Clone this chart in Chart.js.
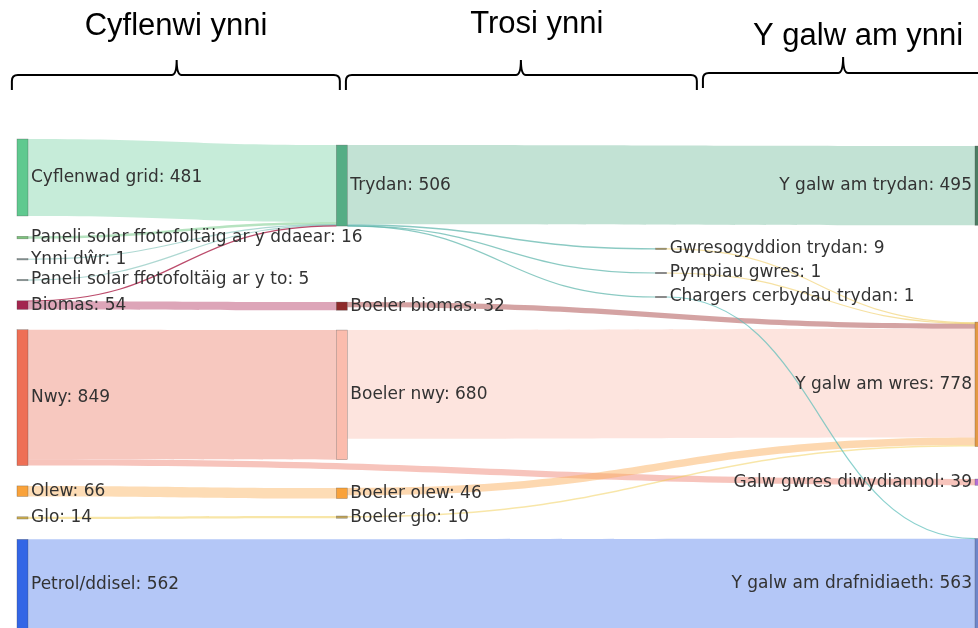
<!DOCTYPE html>
<html>
<head>
<meta charset="utf-8">
<script src="https://cdn.jsdelivr.net/npm/chart.js@4.4.1/dist/chart.umd.min.js"></script>
<style>
  html, body { margin: 0; padding: 0; background: #fff; }
  #wrap { width: 978px; height: 628px; }
</style>
</head>
<body>
<div id="wrap"><canvas id="sankeyChart" width="978" height="628"></canvas></div>
<script>
// nodes: name, quoted total and stage (0 supply, 1 conversion, 2 appliances, 3 demand)
const nodeNames = [
  'Cyflenwad grid', 'Paneli solar ffotofoltäig ar y ddaear', 'Ynni dŵr',
  'Paneli solar ffotofoltäig ar y to', 'Biomas', 'Nwy', 'Olew', 'Glo', 'Petrol/ddisel',
  'Trydan', 'Boeler biomas', 'Boeler nwy', 'Boeler olew', 'Boeler glo',
  'Gwresogyddion trydan', 'Pympiau gwres', 'Chargers cerbydau trydan',
  'Y galw am trydan', 'Y galw am wres', 'Galw gwres diwydiannol', 'Y galw am drafnidiaeth'
];
const nodeTotals = [481, 16, 1, 5, 54, 849, 66, 14, 562, 506, 32, 680, 46, 10, 9, 1, 1, 495, 778, 39, 563];
const nodeStage = [0, 0, 0, 0, 0, 0, 0, 0, 0, 1, 1, 1, 1, 1, 2, 2, 2, 3, 3, 3, 3];

// flows between nodes
const linkSource = [0, 1, 2, 3, 4, 4, 5, 5, 6, 7, 8, 9, 9, 9, 9, 10, 11, 12, 13, 14, 15, 16];
const linkTarget = [9, 9, 9, 9, 9, 10, 11, 19, 12, 13, 20, 17, 14, 15, 16, 18, 18, 18, 18, 18, 18, 20];
const linkValue = [481, 16, 1, 5, 3, 51, 810, 39, 66, 14, 562, 495, 9, 1, 1, 32, 680, 46, 10, 9, 1, 1];

const stageTitles = ['Cyflenwi ynni', 'Trosi ynni', 'Y galw am ynni'];

function drawBrace(ctx, xa, xb, xm, y, tip, drop) {
  const r = 6;
  ctx.beginPath();
  ctx.moveTo(xa, y + drop);
  ctx.lineTo(xa, y + r);
  ctx.quadraticCurveTo(xa, y, xa + r, y);
  ctx.lineTo(xm - 5, y);
  ctx.quadraticCurveTo(xm, y, xm, y - tip);
  ctx.quadraticCurveTo(xm, y, xm + 5, y);
  ctx.lineTo(xb - r, y);
  ctx.quadraticCurveTo(xb, y, xb, y + r);
  ctx.lineTo(xb, y + drop);
  ctx.stroke();
}

const sankeyPlugin = {
  id: 'sankey',
  beforeDatasetsDraw(chart, args, opts) {
    const ctx = chart.ctx;
    const xs = chart.scales.x, ys = chart.scales.y;
    const n = nodeNames.length;

    // node size is the larger of what flows in and out
    const inSum = new Array(n).fill(0), outSum = new Array(n).fill(0);
    linkValue.forEach((v, i) => { outSum[linkSource[i]] += v; inSum[linkTarget[i]] += v; });
    const size = inSum.map((v, i) => Math.max(v, outSum[i]));

    // supply column stacked from the top, the rest from the layout option
    const top = new Array(n);
    let acc = 0;
    for (let i = 0; i < n; i++) {
      if (nodeStage[i] === 0) { top[i] = acc; acc += size[i] + opts.nodePad; }
      else top[i] = opts.nodeTop[i];
    }
    const mid = i => top[i] + size[i] / 2;

    // where each link sits on its source and target
    const outOff = [], inOff = [];
    for (let k = 0; k < n; k++) {
      const outs = linkValue.map((v, i) => i).filter(i => linkSource[i] === k)
        .sort((a, b) => mid(linkTarget[a]) - mid(linkTarget[b]));
      let o = 0;
      outs.forEach(i => { outOff[i] = o; o += linkValue[i]; });
      const ins = linkValue.map((v, i) => i).filter(i => linkTarget[i] === k)
        .sort((a, b) => mid(linkSource[a]) - mid(linkSource[b]));
      o = 0;
      ins.forEach(i => { inOff[i] = o; o += linkValue[i]; });
    }

    const nw = opts.nodeWidth;
    const nodeX = i => xs.getPixelForValue(nodeStage[i]);

    ctx.save();
    // links
    linkValue.forEach((v, i) => {
      const s = linkSource[i], t = linkTarget[i];
      const x0 = nodeX(s) + nw, x1 = nodeX(t);
      const xm = (x0 + x1) / 2;
      const y0a = ys.getPixelForValue(top[s] + outOff[i]);
      const y0b = ys.getPixelForValue(top[s] + outOff[i] + v);
      const y1a = ys.getPixelForValue(top[t] + inOff[i]);
      const y1b = ys.getPixelForValue(top[t] + inOff[i] + v);
      ctx.fillStyle = opts.linkColors[i];
      ctx.strokeStyle = opts.linkColors[i];
      if (Math.abs(y0b - y0a) < 1.2) {
        const ya = (y0a + y0b) / 2, yb = (y1a + y1b) / 2;
        ctx.lineWidth = 1.2;
        ctx.beginPath();
        ctx.moveTo(x0, ya);
        ctx.bezierCurveTo(xm, ya, xm, yb, x1, yb);
        ctx.stroke();
      } else {
        ctx.beginPath();
        ctx.moveTo(x0, y0a);
        ctx.bezierCurveTo(xm, y0a, xm, y1a, x1, y1a);
        ctx.lineTo(x1, y1b);
        ctx.bezierCurveTo(xm, y1b, xm, y0b, x0, y0b);
        ctx.closePath();
        ctx.fill();
      }
    });

    // nodes
    for (let i = 0; i < n; i++) {
      const x = nodeX(i);
      const ya = ys.getPixelForValue(top[i]);
      let h = ys.getPixelForValue(top[i] + size[i]) - ya;
      let y = ya;
      if (h < 1.5) { y = ya + h / 2 - 0.75; h = 1.5; }
      ctx.fillStyle = opts.nodeColors[i];
      ctx.fillRect(x, y, nw, h);
      ctx.strokeStyle = 'rgba(68,68,68,0.55)';
      ctx.lineWidth = 0.5;
      ctx.strokeRect(x, y, nw, h);
    }

    // labels
    ctx.font = opts.labelFont;
    ctx.fillStyle = '#333';
    ctx.textBaseline = 'middle';
    for (let i = 0; i < n; i++) {
      const yc = ys.getPixelForValue(mid(i));
      const label = nodeNames[i] + ': ' + nodeTotals[i];
      if (nodeStage[i] === 3) {
        ctx.textAlign = 'right';
        ctx.fillText(label, nodeX(i) - 3, yc);
      } else {
        ctx.textAlign = 'left';
        ctx.fillText(label, nodeX(i) + nw + 3, yc);
      }
    }

    // stage headings and braces
    ctx.fillStyle = '#000';
    ctx.strokeStyle = '#000';
    ctx.lineWidth = 2;
    ctx.font = opts.titleFont;
    ctx.textAlign = 'center';
    ctx.textBaseline = 'alphabetic';
    stageTitles.forEach((t, i) => {
      const b = opts.braces[i];
      ctx.fillText(t, xs.getPixelForValue(b.title), b.titleY);
      drawBrace(ctx, xs.getPixelForValue(b.from), xs.getPixelForValue(b.to),
        xs.getPixelForValue(b.peak), b.y, b.tip, 15);
    });
    ctx.restore();
  }
};

new Chart(document.getElementById('sankeyChart'), {
  type: 'scatter',
  data: { datasets: [] },
  options: {
    responsive: false,
    animation: false,
    layout: { padding: { top: 139, left: 0, right: 0, bottom: 0 } },
    scales: {
      x: { type: 'linear', min: -0.0532, max: 3.0094, display: false },
      y: { type: 'linear', reverse: true, min: 0, max: 3056, display: false }
    },
    plugins: {
      legend: { display: false },
      tooltip: { enabled: false },
      sankey: {
        nodeWidth: 11,
        nodePad: 127,
        nodeTop: [null, null, null, null, null, null, null, null, null,
          38, 1019, 1194, 2181, 2356, 682, 837, 987, 44, 1144, 2125, 2497],
        labelFont: '17px "DejaVu Sans"',
        titleFont: '31px "Liberation Sans"',
        braces: [
          { from: -0.016, to: 1.011, peak: 0.50, y: 75, tip: 15, title: 0.498, titleY: 35 },
          { from: 1.030, to: 2.129, peak: 1.578, y: 75, tip: 15, title: 1.628, titleY: 33 },
          { from: 2.148, to: 3.03, peak: 2.587, y: 73, tip: 16, title: 2.634, titleY: 45 }
        ],
        nodeColors: ['#5fc98f', '#7cc47c', '#8a9a9a', '#8a9a9a', '#a3264f', '#ee6f55', '#f9a23a',
          '#c9ab4e', '#3366e6', '#55ad85', '#8e2a2a', '#fbbcad', '#f9a23a', '#bfa45a',
          '#a89a62', '#888888', '#888888', '#4d7c63', '#e49a45', '#b46fd6', '#6f86c9'],
        linkColors: [
          'rgba(141,217,179,0.5)', 'rgba(110,200,130,0.5)', 'rgba(120,190,180,0.6)',
          'rgba(120,190,180,0.6)', 'rgba(170,30,70,0.8)', 'rgba(187,75,113,0.5)',
          'rgba(239,145,127,0.5)', 'rgba(239,137,121,0.5)', 'rgba(251,185,107,0.5)',
          'rgba(241,205,81,0.5)', 'rgba(105,143,239,0.5)', 'rgba(133,197,169,0.5)',
          'rgba(90,180,170,0.7)', 'rgba(90,180,170,0.7)', 'rgba(90,180,170,0.7)',
          'rgba(169,71,71,0.5)', 'rgba(251,201,189,0.5)', 'rgba(251,177,97,0.5)',
          'rgba(241,205,81,0.5)', 'rgba(240,205,100,0.6)', 'rgba(240,205,100,0.6)',
          'rgba(90,190,185,0.7)'
        ]
      }
    }
  },
  plugins: [sankeyPlugin]
});
</script>
</body>
</html>
